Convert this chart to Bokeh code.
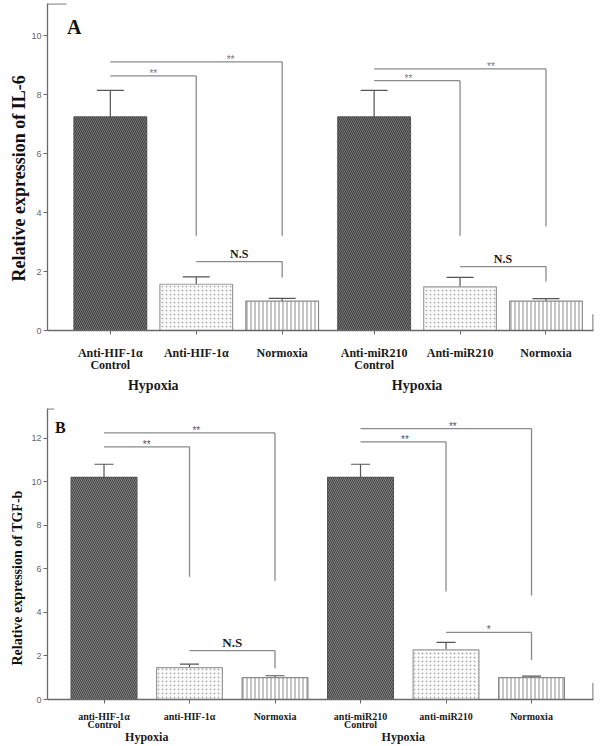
from bokeh.plotting import figure
from bokeh.models import (FixedTicker, Whisker, TeeHead, ColumnDataSource, Label,
                          LinearAxis, Range1d, Title)
from bokeh.layouts import column
from bokeh.embed import file_html
from bokeh.resources import INLINE
from bokeh.core.properties import value

# ---------------- Panel A data (IL-6) ----------------
a_labels = ["Anti-HIF-1α\nControl", "Anti-HIF-1α", "Normoxia",
            "Anti-miR210\nControl", "Anti-miR210", "Normoxia"]
a_means = [7.25, 1.57, 1.0, 7.25, 1.48, 1.0]
a_errs = [0.90, 0.25, 0.09, 0.90, 0.32, 0.08]
a_group = ["Hypoxia", "Hypoxia"]
a_br_left = [0, 0, 1, 3, 3, 4]
a_br_right = [1, 2, 2, 4, 5, 5]
a_br_y = [8.64, 9.12, 2.34, 8.48, 8.88, 2.17]
a_br_drop = [3.22, 3.22, 1.80, 3.22, 3.53, 1.66]
a_br_text = ["**", "**", "N.S", "**", "**", "N.S"]
a_br_lab = [0.5, 0.7, 0.5, 0.4, 0.68, 0.5]
a_yticks = [0, 2, 4, 6, 8, 10]

# ---------------- Panel B data (TGF-b) ----------------
b_labels = ["anti-HIF-1α\nControl", "anti-HIF-1α", "Normoxia",
            "anti-miR210\nControl", "anti-miR210", "Normoxia"]
b_means = [10.2, 1.46, 1.0, 10.2, 2.28, 1.0]
b_errs = [0.60, 0.16, 0.09, 0.60, 0.34, 0.07]
b_group = ["Hypoxia", "Hypoxia"]
b_br_left = [0, 0, 1, 3, 3, 4]
b_br_right = [1, 2, 2, 4, 5, 5]
b_br_y = [11.60, 12.24, 2.24, 11.83, 12.44, 3.08]
b_br_drop = [5.63, 5.45, 1.43, 4.96, 4.78, 1.81]
b_br_text = ["**", "**", "N.S", "**", "**", "*"]
b_br_lab = [0.5, 0.54, 0.5, 0.52, 0.54, 0.5]
b_yticks = [0, 2, 4, 6, 8, 10, 12]

SERIF = "Liberation Serif"
SANS = "Liberation Sans"
AX = "#6a6a6a"
BR = "#8a8a8a"


def make_panel(labels, means, errs, groups, br_l, br_r, br_y, br_drop, br_text,
               br_lab, yticks, cfg):
    n = len(means)
    xs = [i + (cfg["gap"] if i >= 3 else 0.0) for i in range(n)]
    p = figure(width=cfg["width"], height=cfg["height"], output_backend="svg",
               toolbar_location=None,
               x_range=Range1d(cfg["x0"], cfg["x1"]),
               y_range=Range1d(0, cfg["ytop"]),
               min_border_left=cfg["bl"], min_border_right=cfg["br"],
               min_border_top=cfg["bt"], min_border_bottom=cfg["bb"])
    p.outline_line_color = None
    p.grid.visible = False
    p.background_fill_color = "white"

    styles = [
        dict(fill=cfg["dark_fill"], hatch="left_diagonal_line", hc=cfg["dark_hatch"], lc="#555555"),
        dict(fill="white", hatch="dot", hc="#b0b0b0", lc="#9a9a9a"),
        dict(fill="white", hatch="vertical_line", hc="#8a8a8a", lc="#8a8a8a"),
    ]
    st = [styles[i % 3] for i in range(n)]
    src = ColumnDataSource(dict(
        x=xs, top=means,
        upper=[m + e for m, e in zip(means, errs)],
        lower=[m - e for m, e in zip(means, errs)],
        fill=[s["fill"] for s in st], hatch=[s["hatch"] for s in st],
        hc=[s["hc"] for s in st], lc=[s["lc"] for s in st]))
    p.vbar(x="x", top="top", bottom=0, width=cfg["bw"], source=src,
           fill_color="fill", line_color="lc", line_width=1.2,
           hatch_pattern="hatch", hatch_color="hc", hatch_scale=cfg["hs"],
           hatch_weight=1.0)
    w = Whisker(base="x", upper="upper", lower="lower", source=src,
                line_color="#555555", line_width=1.2,
                upper_head=TeeHead(size=cfg["cap"], line_color="#555555", line_width=1.2),
                lower_head=TeeHead(size=cfg["cap"], line_color="#555555", line_width=1.2))
    p.add_layout(w)

    # significance brackets
    bx0 = [xs[i] for i in br_l]
    bx1 = [xs[j] for j in br_r]
    p.segment(x0=bx0, y0=br_y, x1=bx1, y1=br_y, line_color=BR, line_width=1.3)
    p.segment(x0=bx1, y0=br_y, x1=bx1, y1=br_drop, line_color=BR, line_width=1.3)
    lx = [a + f * (b - a) for a, b, f in zip(bx0, bx1, br_lab)]
    star = [k for k, t in enumerate(br_text) if "*" in t]
    other = [k for k, t in enumerate(br_text) if "*" not in t]
    p.text(x=[lx[k] for k in star], y=[br_y[k] for k in star],
           text=[br_text[k] for k in star], text_align="center",
           text_baseline="bottom", y_offset=3, text_font=value(SANS),
           text_font_size=cfg["star_size"], text_color=cfg["star_color"])
    p.text(x=[lx[k] for k in other], y=[br_y[k] for k in other],
           text=[br_text[k] for k in other], text_align="center",
           text_baseline="bottom", y_offset=-1, text_font=value(SERIF),
           text_font_size=cfg["ns_size"], text_font_style="bold",
           text_color="#1a1a1a")

    # frame decorations: small top cap on y axis, small end tick on x axis
    p.segment(x0=[cfg["x0"]], y0=[cfg["ytop"] * 0.999], x1=[cfg["x0"] + cfg["cornerw"]],
              y1=[cfg["ytop"] * 0.999], line_color=AX, line_width=1.3)
    p.segment(x0=[cfg["x1"] - 0.005], y0=[0], x1=[cfg["x1"] - 0.005], y1=[cfg["endh"]],
              line_color=AX, line_width=1.3)

    # y axis
    ya = p.yaxis[0]
    ya.ticker = FixedTicker(ticks=yticks)
    ya.axis_line_color = AX
    ya.axis_line_width = 1.3
    ya.major_tick_line_color = AX
    ya.major_tick_out = 4
    ya.major_tick_in = 0
    ya.minor_tick_line_color = None
    ya.major_label_text_font = SANS
    ya.major_label_text_font_size = "9px"
    ya.major_label_text_color = "#666666"
    ya.major_label_standoff = 2
    ya.axis_label = None
    p.add_layout(Title(text=cfg["ylabel"], align="left", offset=cfg["ylab_offset"],
                       text_font=SERIF, text_font_style="bold",
                       text_font_size=cfg["ylabel_size"], text_color="#111111",
                       standoff=cfg["ylab_standoff"]), "left")

    # x axis (categories) and group axis
    xa = p.xaxis[0]
    xa.axis_label = None
    xa.ticker = FixedTicker(ticks=xs)
    xa.major_label_overrides = {x: l for x, l in zip(xs, labels)}
    xa.axis_line_color = AX
    xa.axis_line_width = 1.3
    xa.major_tick_line_color = AX
    xa.major_tick_out = 4
    xa.major_tick_in = 0
    xa.minor_tick_line_color = None
    xa.major_label_text_font = SERIF
    xa.major_label_text_font_style = "bold"
    xa.major_label_text_font_size = cfg["xlab_size"]
    xa.major_label_text_line_height = cfg["xlab_lh"]
    xa.major_label_text_color = "#1a1a1a"
    xa.major_label_standoff = cfg["xlab_standoff"]

    gx = [(xs[0] + xs[1]) / 2, (xs[3] + xs[4]) / 2]
    ga = LinearAxis(ticker=FixedTicker(ticks=gx), axis_label=None,
                    major_label_overrides={x: g for x, g in zip(gx, groups)},
                    axis_line_color=None, major_tick_line_color=None,
                    minor_tick_line_color=None,
                    major_label_text_font=SERIF, major_label_text_font_style="bold",
                    major_label_text_font_size=cfg["group_size"],
                    major_label_text_color="#1a1a1a",
                    major_label_standoff=cfg["group_standoff"])
    p.add_layout(ga, "below")

    p.add_layout(Label(x=cfg["letter_x"], y=cfg["letter_y"], text=cfg["letter"],
                       text_font=SERIF, text_font_style="bold",
                       text_font_size=cfg["letter_size"], text_align="center",
                       text_baseline="middle", text_color="#111111"))
    return p


cfg_a = dict(width=606, height=395, gap=0.07, x0=-0.731, x1=5.623, ytop=11.1,
             bl=43, br=7, bt=3, bb=64, bw=0.846, hs=4, cap=27,
             dark_fill="#727272", dark_hatch="#444444",
             star_size="10px", star_color="#777777", ns_size="12px",
             cornerw=0.22, endh=0.55, ylabel="Relative expression of IL-6",
             ylabel_size="18px", ylab_offset=49, ylab_standoff=0,
             xlab_size="12px", xlab_lh=0.9, xlab_standoff=11,
             group_size="14px", group_standoff=-4, letter="A",
             letter_x=-0.42, letter_y=10.3, letter_size="20px")
cfg_b = dict(width=606, height=351, gap=0.0, x0=-0.661, x1=5.725, ytop=13.36,
             bl=47, br=13, bt=13, bb=45, bw=0.77, hs=4, cap=19,
             dark_fill="#7a7a7a", dark_hatch="#4a4a4a",
             star_size="10px", star_color="#555555", ns_size="13px",
             cornerw=0.08, endh=0.76, ylabel="Relative expression of TGF-b",
             ylabel_size="14px", ylab_offset=34, ylab_standoff=8,
             xlab_size="10px", xlab_lh=0.8, xlab_standoff=7,
             group_size="12px", group_standoff=-10, letter="B",
             letter_x=-0.51, letter_y=12.5, letter_size="16px")

pa = make_panel(a_labels, a_means, a_errs, a_group, a_br_left, a_br_right, a_br_y,
                a_br_drop, a_br_text, a_br_lab, a_yticks, cfg_a)
pb = make_panel(b_labels, b_means, b_errs, b_group, b_br_left, b_br_right, b_br_y,
                b_br_drop, b_br_text, b_br_lab, b_yticks, cfg_b)

layout = column(pa, pb, spacing=0)
open("out.html", "w").write(file_html(layout, INLINE))
